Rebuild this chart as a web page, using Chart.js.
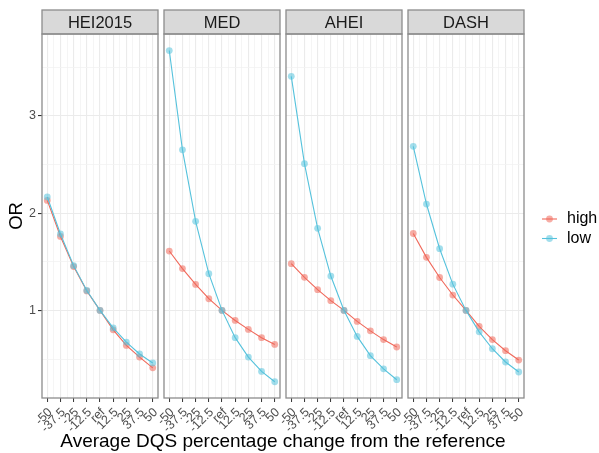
<!DOCTYPE html>
<html>
<head>
<meta charset="utf-8">
<script src="https://cdn.jsdelivr.net/npm/chart.js@4.4.0/dist/chart.umd.min.js"></script>
<style>
body{margin:0;background:#fff;font-family:"Liberation Sans",Arial,sans-serif;}
#wrap{position:relative;width:599px;height:453px;overflow:hidden;background:#fff;}
#wrap canvas{position:absolute;top:0;}
.xtitle{position:absolute;left:42px;width:482px;top:431px;line-height:20px;text-align:center;font-size:19px;color:#000;white-space:nowrap;}
.ytitle{position:absolute;left:-14px;top:206px;width:60px;line-height:20px;text-align:center;font-size:18.5px;color:#000;transform:rotate(-90deg);}
</style>
</head>
<body>
<div id="wrap">
  <canvas id="p0"></canvas>
  <canvas id="p1"></canvas>
  <canvas id="p2"></canvas>
  <canvas id="p3"></canvas>
  <div class="xtitle">Average DQS percentage change from the reference</div>
  <div class="ytitle">OR</div>
</div>
<script>
// data
const x_vals   = [-50, -37.5, -25, -12.5, 0, 12.5, 25, 37.5, 50];
const x_labels = ["-50", "-37.5", "-25", "-12.5", "ref", "12.5", "25", "37.5", "50"];
const y_major  = [1, 2, 3];
const y_minor  = [0.5, 1.5, 2.5, 3.5];
const panel_names = ["HEI2015", "MED", "AHEI", "DASH"];

const hei_high  = [2.13, 1.76, 1.45, 1.20, 1.00, 0.80, 0.64, 0.52, 0.41];
const hei_low   = [2.165, 1.785, 1.46, 1.205, 1.00, 0.82, 0.675, 0.552, 0.46];
const med_high  = [1.61, 1.43, 1.267, 1.12, 1.00, 0.897, 0.805, 0.72, 0.65];
const med_low   = [3.67, 2.65, 1.915, 1.377, 1.00, 0.72, 0.52, 0.373, 0.267];
const ahei_high = [1.48, 1.34, 1.213, 1.10, 1.00, 0.887, 0.79, 0.70, 0.624];
const ahei_low  = [3.405, 2.508, 1.843, 1.353, 1.00, 0.733, 0.535, 0.40, 0.288];
const dash_high = [1.79, 1.545, 1.338, 1.158, 1.00, 0.836, 0.70, 0.586, 0.49];
const dash_low  = [2.686, 2.093, 1.634, 1.27, 1.00, 0.78, 0.606, 0.47, 0.367];

const high_sets = [hei_high, med_high, ahei_high, dash_high];
const low_sets  = [hei_low, med_low, ahei_low, dash_low];

const COL_HIGH = "#F0685A";
const COL_LOW  = "#55C2DC";
const PT_HIGH  = "rgba(240,104,90,0.55)";
const PT_LOW   = "rgba(85,194,220,0.55)";

// minor grid between the categories
let x_grid = [];
for (let i = 0; i < x_vals.length; i++){
    x_grid.push(x_vals[i]);
    if (i < x_vals.length - 1) x_grid.push((x_vals[i] + x_vals[i+1]) / 2);
}

function is_major_x(v){ return x_vals.indexOf(v) >= 0; }
function is_major_y(v){ return y_major.indexOf(v) >= 0; }

const strip_plugin = {
    id: "strip",
    afterDraw(chart, args, opts){
        const ctx = chart.ctx;
        const a = chart.chartArea;
        ctx.save();
        // strip
        ctx.fillStyle = "#d9d9d9";
        ctx.fillRect(a.left, 10, a.right - a.left, a.top - 10);
        ctx.strokeStyle = "#8c8c8c";
        ctx.lineWidth = 1.3;
        ctx.strokeRect(a.left, 10, a.right - a.left, a.top - 10);
        // panel border
        ctx.strokeRect(a.left, a.top, a.right - a.left, a.bottom - a.top);
        ctx.fillStyle = "#1a1a1a";
        ctx.font = '16.5px "Liberation Sans", Arial, sans-serif';
        ctx.textAlign = "center";
        ctx.textBaseline = "middle";
        ctx.fillText(opts.text, (a.left + a.right) / 2, (10 + a.top) / 2 + 1);

        if (opts.legend){
            const items = [["high", COL_HIGH, PT_HIGH, 219],
                           ["low", COL_LOW, PT_LOW, 238.5]];
            for (let it of items){
                const x0 = a.right + 18;
                ctx.strokeStyle = it[1];
                ctx.lineWidth = 1.1;
                ctx.beginPath();
                ctx.moveTo(x0, it[3]);
                ctx.lineTo(x0 + 15, it[3]);
                ctx.stroke();
                ctx.fillStyle = it[2];
                ctx.beginPath();
                ctx.arc(x0 + 7.5, it[3], 3.4, 0, Math.PI * 2);
                ctx.fill();
                ctx.fillStyle = "#000";
                ctx.font = '16px "Liberation Sans", Arial, sans-serif';
                ctx.textAlign = "left";
                ctx.fillText(it[0], x0 + 25, it[3]);
            }
        }
        ctx.restore();
    }
};

window.addEventListener("load", function (){
    const lefts = [42, 164, 286, 408];
    for (let i = 0; i < 4; i++){
        draw_panel(i, lefts[i]);
    }
});

function draw_panel(i, left){
    const canvas = document.getElementById("p" + i);
    const pad_right = (i === 3) ? 599 - left - 116 : 12;
    const w = 42 + 116 + pad_right;
    canvas.width = w;
    canvas.height = 453;
    canvas.style.left = (left - 42) + "px";
    canvas.style.width = w + "px";
    canvas.style.height = "453px";

    const first = (i === 0);

    new Chart(canvas.getContext("2d"), {
        type: "line",
        data: {
            datasets: [
                {
                    label: "high",
                    data: x_vals.map((x, k) => ({x: x, y: high_sets[i][k]})),
                    borderColor: COL_HIGH,
                    backgroundColor: PT_HIGH,
                    borderWidth: 1.1,
                    pointRadius: 3.4,
                    pointBorderWidth: 0,
                    tension: 0,
                    order: 1,
                },
                {
                    label: "low",
                    data: x_vals.map((x, k) => ({x: x, y: low_sets[i][k]})),
                    borderColor: COL_LOW,
                    backgroundColor: PT_LOW,
                    borderWidth: 1.1,
                    pointRadius: 3.4,
                    pointBorderWidth: 0,
                    tension: 0,
                    order: 0,
                },
            ]
        },
        options: {
            responsive: false,
            animation: false,
            events: [],
            layout: { padding: { left: 0, top: 34, right: pad_right, bottom: 0 } },
            plugins: {
                legend: { display: false },
                tooltip: { enabled: false },
                strip: { text: panel_names[i], legend: i === 3 },
            },
            scales: {
                x: {
                    type: "linear",
                    min: -55,
                    max: 55,
                    afterBuildTicks: s => { s.ticks = x_grid.map(v => ({value: v})); },
                    afterFit: s => { s.height = 55; },
                    border: { display: false },
                    grid: {
                        color: c => is_major_x(c.tick.value) ? "#ebebeb" : "#f3f3f3",
                        lineWidth: c => is_major_x(c.tick.value) ? 1.1 : 0.8,
                        tickColor: c => is_major_x(c.tick.value) ? "#333333" : "rgba(0,0,0,0)",
                        tickLength: 4,
                        tickWidth: 1,
                    },
                    ticks: {
                        autoSkip: false,
                        minRotation: 45,
                        maxRotation: 45,
                        padding: 3,
                        labelOffset: 3,
                        color: "#4d4d4d",
                        font: { family: "Liberation Sans", size: 12.5 },
                        callback: v => { const k = x_vals.indexOf(v); return k >= 0 ? x_labels[k] : ""; },
                    },
                },
                y: {
                    type: "linear",
                    min: 0.1,
                    max: 3.84,
                    afterBuildTicks: s => { s.ticks = y_minor.concat(y_major).sort((a, b) => a - b).map(v => ({value: v})); },
                    afterFit: s => { s.width = 42; },
                    border: { display: false },
                    grid: {
                        color: c => is_major_y(c.tick.value) ? "#ebebeb" : "#f3f3f3",
                        lineWidth: c => is_major_y(c.tick.value) ? 1.1 : 0.8,
                        drawTicks: first,
                        tickColor: c => is_major_y(c.tick.value) ? "#333333" : "rgba(0,0,0,0)",
                        tickLength: 4,
                    },
                    ticks: {
                        display: first,
                        padding: 2,
                        color: "#4d4d4d",
                        font: { family: "Liberation Sans", size: 12.5 },
                        callback: v => is_major_y(v) ? String(v) : "",
                    },
                },
            }
        },
        plugins: [strip_plugin]
    });
}
</script>
</body>
</html>
